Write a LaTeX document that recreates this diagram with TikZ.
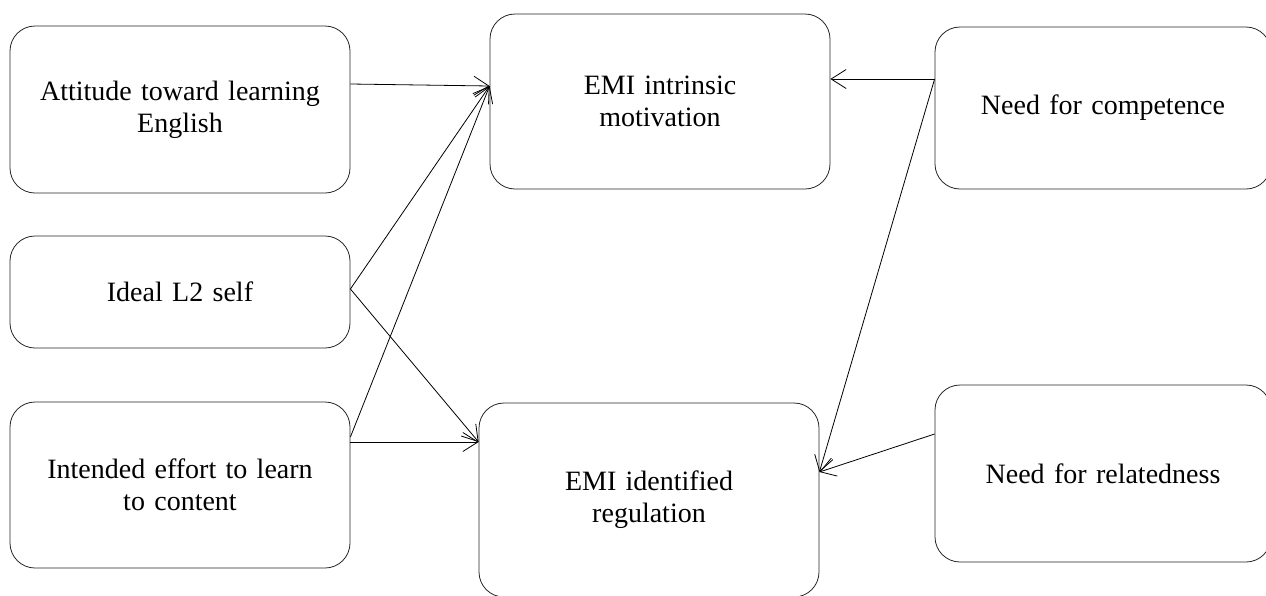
\documentclass[tikz,border=0pt]{standalone}
\usepackage{fontspec}
\setmainfont{Liberation Serif}
\usetikzlibrary{arrows.meta}
\begin{document}
\begin{tikzpicture}[x=1pt,y=-1pt,
  box/.style={draw=black!85, line width=0.8pt, rounded corners=25pt, inner sep=0pt,
    minimum width=#1, align=center, text width=320pt,
    font=\fontsize{28}{32}\selectfont},
  conn/.style={draw=black, line width=0.8pt, -{Straight Barb[length=15pt,width=19pt,line width=0.8pt]}}]
\useasboundingbox (0,0) rectangle (1266,595);
\node[box=340pt, minimum height=167pt] (att) at (180,109.5) {Attitude toward learning\\English};
\node[box=340pt, minimum height=112pt] (ideal) at (180,292) {Ideal L2 self};
\node[box=340pt, minimum height=166pt] (eff) at (180,485) {Intended effort to learn\\to content};
\node[box=340pt, minimum height=175pt] (intr) at (660,101.5) {EMI intrinsic\\motivation};
\node[box=340pt, minimum height=194pt] (iden) at (649,500) {EMI identified\\regulation};
\node[box=336pt, minimum height=162pt] (comp) at (1103,108) {Need for competence};
\node[box=336pt, minimum height=177pt] (rel) at (1103,473.5) {Need for relatedness};
\draw[conn] ([yshift=25.5pt]att.east) -- ([yshift=15.5pt]intr.west);
\draw[conn] ([yshift=3pt]ideal.east) -- ([yshift=15.5pt]intr.west);
\draw[conn] ([yshift=3pt]ideal.east) -- ([yshift=58pt]iden.west);
\draw[conn] ([yshift=48pt]eff.east) -- ([yshift=15.5pt]intr.west);
\draw[conn] ([yshift=43pt]eff.east) -- ([yshift=58pt]iden.west);
\draw[conn] ([yshift=29pt]comp.west) -- ([yshift=22.5pt]intr.east);
\draw[conn] ([yshift=29pt]comp.west) -- ([yshift=28pt]iden.east);
\draw[conn] ([yshift=39.5pt]rel.west) -- ([yshift=28pt]iden.east);
\end{tikzpicture}
\end{document}
